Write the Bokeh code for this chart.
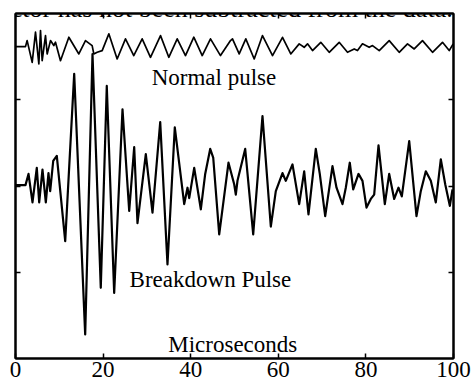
from bokeh.plotting import figure
from bokeh.models import Range1d, FixedTicker, LinearAxis, Label, ColumnDataSource
from bokeh.embed import file_html
from bokeh.resources import INLINE

# Time axis (microseconds) and traces (arbitrary offset units)
normal_t = [0.0, 2.28, 2.66, 3.81, 4.57, 5.33, 5.71, 6.09, 6.85, 7.23, 7.99, 8.75, 9.13,
            10.27, 12.18, 14.46, 15.98, 17.50, 17.88, 18.65, 19.79, 21.31, 23.21, 25.11,
            27.00, 28.92, 30.82, 33.11, 35.00, 36.92, 38.81, 40.71, 42.63, 44.52, 46.80,
            49.09, 49.54, 51.07, 52.58, 54.50, 56.39, 58.68, 60.96, 62.85, 64.77, 65.91,
            66.67, 67.81, 69.70, 71.62, 73.90, 75.80, 77.33, 78.08, 79.22, 80.75, 81.51,
            83.04, 85.32, 87.60, 89.50, 91.03, 92.92, 95.21, 97.49, 99.02, 99.93]
normal_v = [3.616, 3.616, 3.686, 3.434, 3.783, 3.415, 3.802, 3.453, 3.744, 3.531, 3.686,
            3.628, 3.667, 3.453, 3.725, 3.531, 3.686, 3.628, 3.531, 3.550, 3.570, 3.764,
            3.473, 3.706, 3.512, 3.706, 3.492, 3.744, 3.492, 3.706, 3.512, 3.725, 3.512,
            3.706, 3.512, 3.686, 3.706, 3.531, 3.706, 3.473, 3.744, 3.512, 3.724, 3.531,
            3.648, 3.608, 3.648, 3.570, 3.666, 3.550, 3.666, 3.550, 3.589, 3.570, 3.648,
            3.608, 3.628, 3.570, 3.686, 3.550, 3.648, 3.589, 3.686, 3.550, 3.666, 3.570,
            3.648]

breakdown_t = [0.0, 2.28, 2.97, 3.88, 4.86, 5.41, 6.16, 6.92, 7.53, 7.92, 8.61, 9.43,
               11.35, 13.40, 15.91, 17.58, 19.47, 20.84, 22.53, 24.43, 25.96, 27.10,
               27.85, 29.75, 31.28, 33.04, 34.70, 36.37, 38.52, 39.27, 39.66, 40.80,
               42.31, 43.31, 44.45, 45.14, 46.51, 48.63, 49.93, 50.30, 50.68, 52.44,
               54.27, 56.39, 58.29, 59.43, 60.96, 61.71, 63.24, 64.77, 65.91, 66.89,
               68.56, 69.47, 70.71, 72.37, 73.29, 74.66, 75.41, 76.32, 77.10, 78.31,
               79.22, 80.14, 81.12, 81.89, 82.88, 84.32, 85.32, 86.46, 87.44, 88.20,
               89.89, 91.55, 92.53, 93.68, 94.82, 95.96, 97.10, 98.11, 99.16, 99.77]
breakdown_v = [2.01, 2.01, 2.14, 1.81, 2.21, 1.81, 2.19, 1.81, 2.15, 1.94, 2.29, 2.35,
               1.36, 3.30, 0.28, 3.53, 0.82, 3.16, 0.76, 2.89, 1.71, 2.45, 1.57, 2.37,
               1.69, 2.74, 1.09, 2.68, 1.79, 1.98, 1.86, 2.21, 1.73, 2.14, 2.43, 2.33,
               1.44, 2.27, 2.02, 1.90, 2.06, 2.43, 1.44, 2.81, 1.53, 1.94, 2.15, 2.06,
               2.25, 1.79, 2.17, 1.67, 2.43, 2.14, 1.65, 2.23, 1.98, 1.79, 1.98, 2.27,
               1.96, 2.14, 2.06, 1.75, 1.85, 1.90, 2.47, 1.79, 2.14, 1.85, 1.98, 1.88,
               2.52, 1.65, 1.94, 2.17, 2.06, 1.81, 2.31, 2.02, 1.77, 1.96]

x_ticks = [0, 20, 40, 60, 80, 100]
y_ticks = [1, 2, 3]

FONT = "Liberation Serif"

p = figure(width=473, height=385, output_backend="svg", toolbar_location=None,
           x_range=Range1d(0, 100), y_range=Range1d(0, 4),
           min_border_left=15, min_border_right=20, min_border_top=13, min_border_bottom=27)
p.background_fill_color = "white"
p.border_fill_color = "white"
p.outline_line_color = "black"
p.outline_line_width = 2
p.grid.visible = False

def style_axis(ax, ticks, labels):
    ax.ticker = FixedTicker(ticks=ticks)
    ax.major_tick_in = 5
    ax.major_tick_out = 0
    ax.minor_tick_line_color = None
    ax.axis_line_color = "black"
    ax.axis_line_width = 2
    ax.major_tick_line_color = "black"
    ax.major_tick_line_width = 1.5
    ax.major_label_text_font = FONT
    ax.major_label_text_font_size = "23px"
    ax.major_label_text_color = "black"
    if labels:
        ax.major_label_standoff = 3
    else:
        ax.major_label_overrides = {t: "" for t in ticks}
        ax.major_label_standoff = 0

style_axis(p.xaxis[0], x_ticks, True)
style_axis(p.yaxis[0], y_ticks, False)
top = LinearAxis()
style_axis(top, x_ticks[1:-1], False)
p.add_layout(top, "above")
right = LinearAxis()
style_axis(right, y_ticks, False)
p.add_layout(right, "right")

src_n = ColumnDataSource(dict(t=normal_t, v=normal_v))
src_b = ColumnDataSource(dict(t=breakdown_t, v=breakdown_v))
p.line("t", "v", source=src_n, line_color="black", line_width=1.7, line_join="round")
p.line("t", "v", source=src_b, line_color="black", line_width=2.2, line_join="round")

for txt, x, y in [("Normal pulse", 45.3, 3.256), ("Breakdown Pulse", 44.5, 0.919),
                  ("Microseconds", 49.6, 0.163)]:
    p.add_layout(Label(x=x, y=y, text=txt, text_align="center", text_baseline="alphabetic",
                       text_font=FONT, text_font_size="23px", text_color="black"))

p.add_layout(Label(x=-3.7, y=4.058, text="ector has not been subtracted from the data.",
                   text_align="left", text_baseline="alphabetic", text_font=FONT,
                   text_font_size="26px", text_color="black"))

open("out.html", "w").write(file_html(p, INLINE))
